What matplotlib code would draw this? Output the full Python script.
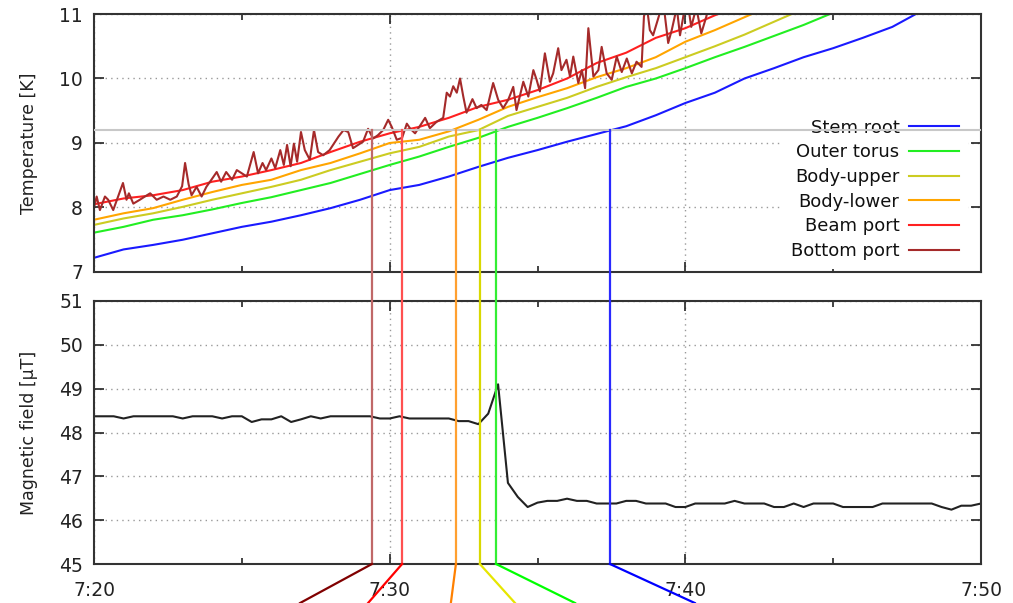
import matplotlib
matplotlib.use('Agg')
import matplotlib.pyplot as plt
from matplotlib.lines import Line2D
import numpy as np

plt.rcParams['font.family'] = ['DejaVu Sans']

# ---------------- data (minutes after 7:20) ----------------
minutes = list(range(31))
stem_root   = [7.22, 7.35, 7.42, 7.50, 7.60, 7.70, 7.78, 7.88, 7.99, 8.12, 8.27, 8.35, 8.48, 8.63, 8.77, 8.89,
               9.02, 9.14, 9.26, 9.43, 9.62, 9.78, 10.00, 10.16, 10.33, 10.47, 10.63, 10.80, 11.05, 11.25, 11.45]
outer_torus = [7.61, 7.70, 7.81, 7.88, 7.97, 8.07, 8.16, 8.27, 8.38, 8.52, 8.66, 8.79, 8.94, 9.08, 9.25, 9.39,
               9.54, 9.70, 9.87, 10.00, 10.16, 10.33, 10.49, 10.66, 10.83, 11.02, 11.20, 11.40, 11.60, 11.80, 12.00]
body_upper  = [7.73, 7.83, 7.91, 8.01, 8.12, 8.22, 8.32, 8.43, 8.58, 8.71, 8.84, 8.94, 9.10, 9.20, 9.42, 9.56,
               9.70, 9.87, 10.02, 10.16, 10.33, 10.50, 10.68, 10.88, 11.08, 11.30, 11.50, 11.70, 11.90, 12.10, 12.30]
body_lower  = [7.81, 7.91, 7.99, 8.12, 8.24, 8.35, 8.43, 8.58, 8.69, 8.84, 9.00, 9.05, 9.18, 9.36, 9.56, 9.71,
               9.85, 10.02, 10.16, 10.33, 10.57, 10.75, 10.95, 11.15, 11.35, 11.55, 11.75, 11.95, 12.15, 12.35, 12.55]
beam_port   = [8.05, 8.14, 8.19, 8.27, 8.40, 8.48, 8.58, 8.69, 8.86, 9.02, 9.15, 9.25, 9.39, 9.56, 9.67, 9.82,
               10.00, 10.24, 10.40, 10.63, 10.78, 10.98, 11.15, 11.35, 11.55, 11.75, 11.95, 12.15, 12.35, 12.55, 12.75]

bottom_port_t = [0.0, 0.09, 0.2, 0.37, 0.48, 0.65, 0.98, 1.1, 1.18, 1.33, 1.55, 1.72, 1.9, 2.12, 2.35, 2.58, 2.8,
                 2.98, 3.08, 3.2, 3.3, 3.47, 3.64, 3.8, 3.97, 4.15, 4.3, 4.47, 4.67, 4.83, 5.0, 5.17, 5.4, 5.55,
                 5.7, 5.82, 6.0, 6.13, 6.3, 6.42, 6.53, 6.65, 6.76, 6.87, 7.0, 7.13, 7.3, 7.44, 7.58, 7.75, 7.97,
                 8.27, 8.44, 8.6, 8.76, 8.93, 9.1, 9.27, 9.44, 9.6, 9.78, 9.95, 10.07, 10.24, 10.42, 10.58, 10.7,
                 10.86, 11.0, 11.2, 11.36, 11.59, 11.81, 11.93, 12.04, 12.15, 12.27, 12.38, 12.49, 12.6, 12.8,
                 12.94, 13.1, 13.28, 13.5, 13.67, 13.84, 14.01, 14.18, 14.29, 14.52, 14.69, 14.86, 14.97, 15.08,
                 15.25, 15.42, 15.53, 15.7, 15.81, 15.98, 16.1, 16.21, 16.38, 16.5, 16.61, 16.72, 16.89, 17.06,
                 17.17, 17.34, 17.51, 17.68, 17.85, 18.02, 18.19, 18.35, 18.52, 18.6, 18.69, 18.8, 18.91, 19.03,
                 19.14, 19.25, 19.42, 19.54, 19.71, 19.82, 19.93, 20.04, 20.2, 20.37, 20.54, 20.71, 20.88, 21.2,
                 22.0, 25.0, 30.0]
bottom_port = [8.00, 8.17, 7.96, 8.17, 8.12, 7.96, 8.38, 8.12, 8.22, 8.06, 8.12, 8.17, 8.22, 8.12, 8.17, 8.12, 8.17,
               8.33, 8.69, 8.36, 8.19, 8.32, 8.17, 8.32, 8.43, 8.55, 8.40, 8.55, 8.43, 8.58, 8.53, 8.48, 8.86, 8.53,
               8.69, 8.58, 8.76, 8.61, 8.89, 8.66, 8.97, 8.64, 8.99, 8.71, 9.17, 8.89, 8.74, 9.20, 8.86, 8.81, 8.89,
               9.10, 9.20, 9.17, 8.92, 8.97, 9.02, 9.22, 9.07, 9.12, 9.20, 9.36, 9.25, 9.05, 9.08, 9.30, 9.22,
               9.15, 9.25, 9.39, 9.23, 9.33, 9.39, 9.78, 9.72, 9.88, 9.78, 10.00, 9.72, 9.47, 9.68,
               9.54, 9.59, 9.51, 9.93, 9.67, 9.54, 9.67, 9.87, 9.51, 9.95, 9.72, 10.13, 9.98, 9.80,
               10.39, 9.95, 10.08, 10.47, 10.13, 10.29, 10.03, 10.34, 9.93, 10.13, 9.85, 10.78, 10.03, 10.13,
               10.49, 10.08, 9.98, 10.34, 10.10, 10.31, 10.08, 10.26, 10.18, 10.96, 11.15, 10.75, 10.67, 10.85,
               11.02, 11.20, 10.55, 10.75, 11.10, 10.67, 10.96, 11.30, 10.80, 11.10, 10.70, 10.96, 11.30, 11.50,
               11.80, 12.50, 13.50]

series_names  = ['Stem root', 'Outer torus', 'Body-upper', 'Body-lower', 'Beam port', 'Bottom port']
series_colors = ['#1a1aff', '#22ee22', '#cccc22', '#ffa500', '#ff2020', '#a52a2a']

threshold_K = 9.2
crossing_t   = [17.45, 13.6, 13.05, 12.24, 10.42, 9.40]   # when each sensor reached 9.2 K
vline_colors = ['#2a2aff', '#33ee33', '#d8d800', '#ffa030', '#ff5050', '#c06868']
leader_colors = ['#0000ff', '#00ff00', '#e6e600', '#ff8000', '#ff0000', '#800000']
leader_end_t = [20.32, 16.27, 14.24, 12.07, 9.27, 6.97]

field_t = list(np.arange(91) * 20 / 60.0)
field_uT = [48.37, 48.37, 48.37, 48.32, 48.37, 48.37, 48.37, 48.37, 48.37, 48.32, 48.37, 48.37, 48.37, 48.32,
            48.37, 48.37, 48.24, 48.30, 48.30, 48.37, 48.24, 48.30, 48.37, 48.32, 48.37, 48.37, 48.37, 48.37,
            48.37, 48.32, 48.32, 48.37, 48.32, 48.32, 48.32, 48.32, 48.32, 48.26, 48.26, 48.19, 48.43, 49.10,
            46.85, 46.53, 46.30, 46.40, 46.44, 46.44, 46.49, 46.44, 46.44, 46.38, 46.38, 46.38, 46.44, 46.44,
            46.38, 46.38, 46.38, 46.30, 46.30, 46.38, 46.38, 46.38, 46.38, 46.44, 46.38, 46.38, 46.38, 46.30,
            46.30, 46.38, 46.30, 46.38, 46.38, 46.38, 46.30, 46.30, 46.30, 46.30, 46.38, 46.38, 46.38, 46.38,
            46.38, 46.38, 46.30, 46.24, 46.33, 46.33, 46.38]

xtick_pos = [0, 10, 20, 30]
xtick_labels = ['7:20', '7:30', '7:40', '7:50']

# ---------------- figure ----------------
W, H = 1013, 603
fig = plt.figure(figsize=(W / 100, H / 100), dpi=100)
L, R = 94, 981
ax1 = fig.add_axes([L / W, 1 - 272 / H, (R - L) / W, (272 - 14) / H])
ax2 = fig.add_axes([L / W, 1 - 564 / H, (R - L) / W, (564 - 301) / H])

temps = [stem_root, outer_torus, body_upper, body_lower, beam_port]
for name, col, vals in zip(series_names[:5], series_colors[:5], temps):
    ax1.plot(minutes, vals, color=col, lw=1.5, label=name)
ax1.plot(bottom_port_t, bottom_port, color=series_colors[5], lw=1.5, label=series_names[5])
ax1.axhline(threshold_K, color='#c8c8c8', lw=1.5, zorder=6)

ax2.plot(field_t, field_uT, color='#222222', lw=1.5)

for ax in (ax1, ax2):
    ax.set_xlim(0, 30)
    ax.set_xticks(xtick_pos)
    ax.set_xticks([5, 15, 25], minor=True)
    ax.grid(True, which='major', color='#999999', linestyle=(0, (1, 3)), lw=1.0)
    ax.tick_params(which='both', direction='in', top=True, right=True, labelsize=13.5,
                   colors='#222222', pad=8)
    ax.tick_params(which='major', length=7, width=1.2)
    ax.tick_params(which='minor', length=4.5, width=1.2)
    for s in ax.spines.values():
        s.set_linewidth(1.5)
        s.set_color('#333333')

ax1.set_ylim(7, 11)
ax1.set_yticks([7, 8, 9, 10, 11])
ax1.set_xticklabels([])
ax1.set_ylabel('Temperature [K]', fontsize=12.5, color='#222222')
ax1.yaxis.set_label_coords((38 - L) / (R - L), 0.5)

ax2.set_ylim(45, 51)
ax2.set_yticks([45, 46, 47, 48, 49, 50, 51])
ax2.set_xticklabels(xtick_labels)
ax2.tick_params(axis='x', pad=12)
ax2.set_ylabel('Magnetic field [µT]', fontsize=12.5, color='#222222')
ax2.yaxis.set_label_coords((38 - L) / (R - L), 0.5)

leg = ax1.legend(loc='lower right', bbox_to_anchor=((968 - L) / (R - L), 3 / 258), frameon=True,
                 facecolor='white', edgecolor='none', framealpha=1, fancybox=False,
                 markerfirst=False, handlelength=2.75, handletextpad=0.55, fontsize=13,
                 labelspacing=0.37, borderpad=0.5, borderaxespad=0)
leg.set_zorder(5)
for t in leg.get_texts():
    t.set_color('#111111')

# ---------------- marker lines across panels ----------------
inv = fig.transFigure.inverted()
for t, vc, lc, te in zip(crossing_t, vline_colors, leader_colors, leader_end_t):
    p1 = inv.transform(ax1.transData.transform((t, threshold_K)))
    p2 = inv.transform(ax2.transData.transform((t, 45)))
    p3 = inv.transform(ax2.transData.transform((te, 44.11)))
    fig.add_artist(Line2D([p1[0], p2[0]], [p1[1], p2[1]], transform=fig.transFigure,
                          color=vc, lw=1.6, zorder=3))
    fig.add_artist(Line2D([p2[0], p3[0]], [p2[1], p3[1]], transform=fig.transFigure,
                          color=lc, lw=1.6, zorder=3))

fig.savefig('out.png', dpi=100)
